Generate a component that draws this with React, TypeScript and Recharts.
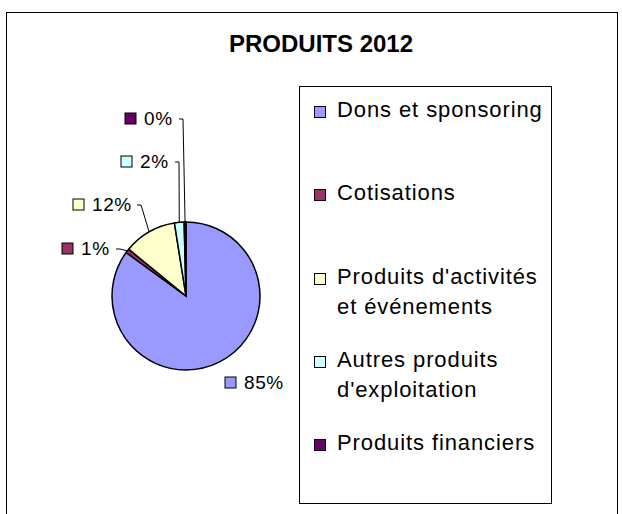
import React from 'react';
import { PieChart, Pie, Cell } from 'recharts';

const categories = [
  'Dons et sponsoring',
  'Cotisations',
  "Produits d'activités et événements",
  "Autres produits d'exploitation",
  'Produits financiers',
];
const values = [85.0, 0.9, 11.6, 2.1, 0.4];
const colors = ['#9999FF', '#993366', '#FFFFCC', '#CCFFFF', '#660066'];
const title = 'PRODUITS 2012';

const data = categories.map((name, i) => ({ name, value: values[i] }));

// label placement relative to pie centre (text start x, baseline y, leader elbow x)
const labelLayout = [
  { dx: 58, dy: 93, elbow: null as number | null },
  { dx: -105, dy: -41, elbow: -66 },
  { dx: -94, dy: -85, elbow: -45 },
  { dx: -46, dy: -128, elbow: -7 },
  { dx: -42, dy: -171, elbow: -3 },
];

const FONT = '"Liberation Sans", Arial, Helvetica, sans-serif';
const RAD = Math.PI / 180;

const renderLabel = (props: any) => {
  const { cx, cy, midAngle, outerRadius, percent, index } = props;
  const lay = labelLayout[index];
  if (!lay) return null;
  const tx = cx + lay.dx;
  const by = cy + lay.dy;
  const ex = cx + outerRadius * Math.cos(-midAngle * RAD);
  const ey = cy + outerRadius * Math.sin(-midAngle * RAD);
  const ly = by - 6;
  return (
    <g>
      {lay.elbow !== null && (
        <polyline
          points={`${ex},${ey} ${cx + lay.elbow},${ly} ${cx + lay.elbow - 4},${ly}`}
          fill="none"
          stroke="#000"
          strokeWidth={1}
        />
      )}
      <rect x={tx - 19} y={by - 12} width={11} height={11} fill={colors[index]} stroke="#000" strokeWidth={1} />
      <text x={tx} y={by} fontFamily={FONT} fontSize={19} letterSpacing={0.6} fill="#000" textAnchor="start">
        {`${Math.round(percent * 100)}%`}
      </text>
    </g>
  );
};

function LegendBox() {
  return (
    <div
      style={{
        position: 'absolute',
        left: 299,
        top: 86,
        width: 253,
        height: 418,
        border: '1px solid #000',
        boxSizing: 'border-box',
        background: '#fff',
        fontFamily: FONT,
      }}
    >
      {categories.map((name, i) => (
        <div key={`leg-${i}`} style={{ position: 'absolute', left: 0, top: 8 + i * 83.3, width: 251 }}>
          <div
            style={{
              position: 'absolute',
              left: 14,
              top: 11,
              width: 12,
              height: 12,
              boxSizing: 'border-box',
              border: '1px solid #000',
              background: colors[i],
            }}
          />
          <div
            style={{
              position: 'absolute',
              left: 37,
              top: 0,
              width: 214,
              fontSize: 22,
              lineHeight: '30px',
              letterSpacing: 0.9,
              color: '#000',
              whiteSpace: 'normal',
            }}
          >
            {name}
          </div>
        </div>
      ))}
    </div>
  );
}

export default function App() {
  return (
    <div
      style={{
        position: 'absolute',
        left: 0,
        top: 0,
        width: 622,
        height: 514,
        overflow: 'hidden',
        background: '#fff',
        fontFamily: FONT,
      }}
    >
      <div
        style={{
          position: 'absolute',
          left: 6,
          top: 12,
          width: 610,
          height: 502,
          borderTop: '1px solid #000',
          borderLeft: '1px solid #000',
          borderRight: '1px solid #000',
        }}
      />
      <div
        style={{
          position: 'absolute',
          left: 221,
          top: 32,
          width: 200,
          textAlign: 'center',
          fontSize: 24,
          lineHeight: '24px',
          fontWeight: 'bold',
          color: '#000',
          whiteSpace: 'nowrap',
        }}
      >
        {title}
      </div>
      <div style={{ position: 'absolute', left: 0, top: 0, width: 622, height: 514 }}>
        <PieChart width={622} height={514} margin={{ top: 0, right: 0, bottom: 0, left: 0 }}>
          <Pie
            data={data}
            dataKey="value"
            nameKey="name"
            cx={186}
            cy={296}
            outerRadius={74}
            startAngle={90}
            endAngle={-270}
            stroke="#000"
            strokeWidth={1.5}
            label={renderLabel}
            labelLine={false}
            isAnimationActive={false}
          >
            {data.map((d, i) => (
              <Cell key={`c-${i}`} fill={colors[i]} />
            ))}
          </Pie>
        </PieChart>
      </div>
      <LegendBox />
    </div>
  );
}
